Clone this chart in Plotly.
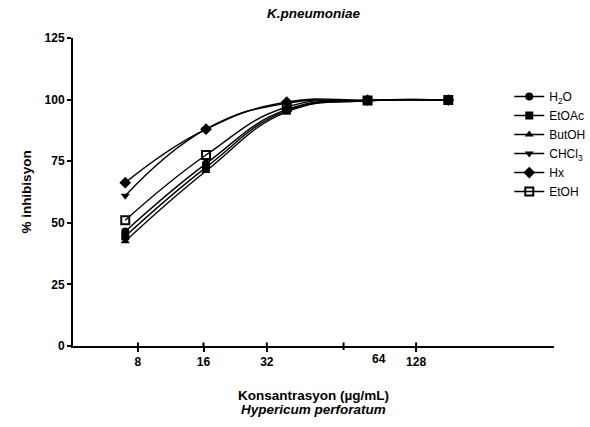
import math
import plotly.graph_objects as go

# Concentrations (µg/mL) and % inhibition for each Hypericum perforatum extract
concentration = [8, 16, 32, 64, 128]
h2o = [46.5, 74.0, 96.0, 99.5, 99.8]
etoac = [44.5, 72.5, 95.5, 99.5, 99.8]
butoh = [42.5, 71.0, 95.0, 99.5, 99.8]
chcl3 = [61.0, 88.0, 98.5, 99.7, 99.8]
hx = [66.3, 88.0, 99.0, 99.8, 99.8]
etoh = [51.0, 77.5, 97.0, 99.6, 99.8]

series_names = ["H<sub>2</sub>O", "EtOAc", "ButOH", "CHCl<sub>3</sub>", "Hx", "EtOH"]
series_values = [h2o, etoac, butoh, chcl3, hx, etoh]
series_symbols = ["circle", "square", "triangle-up", "triangle-down", "diamond", "square-open"]

x_tick_labels = ["8", "16", "32", "128"]
y_tick_values = [0, 25, 50, 75, 100, 125]

FONT = "Arial, Liberation Sans, sans-serif"

fig = go.Figure()
for name, vals, sym in zip(series_names, series_values, series_symbols):
    fig.add_trace(go.Scatter(
        x=concentration, y=vals, name=name, mode="lines+markers",
        line=dict(color="black", width=1.4, shape="spline", smoothing=1.3),
        marker=dict(symbol=sym, size=8 if sym != "diamond" else 9, color="black",
                    line=dict(color="black", width=2 if sym == "square-open" else 0)),
    ))

# tick positions on the log-scaled concentration axis
labeled_ticks = [8.92, 15.66, 26.96, 97.1]
unlabeled_tick = 52.1

fig.update_layout(
    width=590, height=427,
    margin=dict(l=73, r=36, t=38, b=81, autoexpand=False),
    paper_bgcolor="white", plot_bgcolor="white",
    font=dict(family=FONT, color="black"),
    showlegend=True,
    legend=dict(x=0.907, y=0.857, xanchor="left", yanchor="top",
                font=dict(size=12, family=FONT), itemwidth=30,
                tracegroupgap=0, bgcolor="rgba(0,0,0,0)"),
    title=dict(text="<b><i>K.pneumoniae</i></b>", x=0.5, xref="paper", xanchor="center",
               y=0.968, yanchor="middle", font=dict(size=13.5, family=FONT)),
    xaxis=dict(type="log", range=[math.log10(2 ** 2.353), math.log10(2 ** 8.309)],
               showgrid=False, zeroline=False, showline=True, linecolor="black", linewidth=2,
               tickmode="array", tickvals=labeled_ticks,
               ticktext=[f"<b>{t}</b>" for t in x_tick_labels],
               ticks="outside", ticklen=4, tickwidth=2, tickcolor="black",
               tickfont=dict(size=12, family=FONT)),
    yaxis=dict(range=[0, 125], showgrid=False, zeroline=False, showline=True,
               linecolor="black", linewidth=2, tickmode="array", tickvals=y_tick_values,
               ticktext=[f"<b>{v}</b>" for v in y_tick_values],
               ticks="outside", ticklen=4, tickwidth=2, tickcolor="black",
               tickfont=dict(size=12, family=FONT),
               title=dict(text="<b>% inhibisyon</b>", font=dict(size=13.5, family=FONT), standoff=10)),
)

# x ticks cross the axis line: upper halves, plus the unlabeled tick
for p in labeled_ticks:
    fig.add_shape(type="line", xref="x", yref="paper", x0=p, x1=p, y0=0, y1=0.0115,
                  line=dict(color="black", width=2))
fig.add_shape(type="line", xref="x", yref="paper", x0=unlabeled_tick, x1=unlabeled_tick,
              y0=-0.013, y1=0.0115, line=dict(color="black", width=2))

# "64" label
fig.add_annotation(x=math.log10(70.5), y=0, xref="x", yref="y", text="<b>64</b>",
                   showarrow=False, yshift=-13, font=dict(size=12, family=FONT))

# x axis title, two lines
fig.add_annotation(x=0.5, xref="paper", y=-0.162, yref="paper", yanchor="middle",
                   text="<b>Konsantrasyon (µg/mL)</b>", showarrow=False,
                   font=dict(size=13.5, family=FONT))
fig.add_annotation(x=0.5, xref="paper", y=-0.205, yref="paper", yanchor="middle",
                   text="<b><i>Hypericum perforatum</i></b>", showarrow=False,
                   font=dict(size=13.5, family=FONT))

fig.write_html("out.html")
